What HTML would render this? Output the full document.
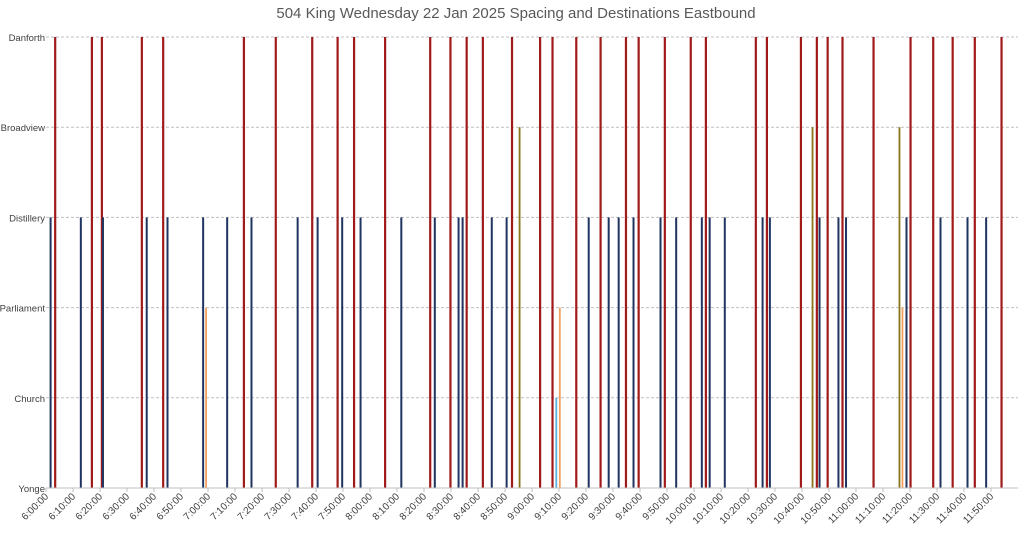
<!DOCTYPE html>
<html><head><meta charset="utf-8"><style>
body{margin:0;background:#fff;}
svg{display:block;font-family:"Liberation Sans",sans-serif;}
</style></head><body>
<svg id="chart" width="1024" height="542">
<text x="516" y="18" text-anchor="middle" font-size="15" fill="#595959">504 King Wednesday 22 Jan 2025 Spacing and Destinations Eastbound</text>
<g id="grid"></g><g id="bars"></g><g id="axes"></g>
</svg>
<script>
const stops = ["Yonge","Church","Parliament","Distillery","Broadview","Danforth"];
const tickLabels = ["6:00:00","6:10:00","6:20:00","6:30:00","6:40:00","6:50:00","7:00:00","7:10:00","7:20:00","7:30:00","7:40:00","7:50:00","8:00:00","8:10:00","8:20:00","8:30:00","8:40:00","8:50:00","9:00:00","9:10:00","9:20:00","9:30:00","9:40:00","9:50:00","10:00:00","10:10:00","10:20:00","10:30:00","10:40:00","10:50:00","11:00:00","11:10:00","11:20:00","11:30:00","11:40:00","11:50:00"];
// minutes after 6:00
const danforthTimes = [3.4,17,20.7,35.5,43.4,73.3,85.1,98.6,108,114.1,125.6,142.3,149.8,155.8,161.8,172.6,183,187.6,196.4,205.4,214.8,219.5,229.2,238.8,244.4,262.9,267,279.6,285.5,289.5,295,306.5,320.2,328.6,335.8,344,353.9];
const distilleryTimes = [1.7,12.9,21.1,37.3,45,58.2,67.1,76.1,93.2,100.6,109.7,116.5,131.6,144,152.8,154.3,165.1,170.6,201,208.4,212.1,217.6,227.6,233.4,242.9,245.8,251.4,265.4,268.1,286.5,293.5,296.3,318.7,331.3,341.3,348.2];
const broadviewTimes = [175.4,283.9,316.1];
const churchTimes = [189];
const parliamentTimes = [59.3,190.3,317.2];

const NS="http://www.w3.org/2000/svg";
const X0=46, PXMIN=2.7, YB=488, YT=37;
function x(m){return X0+m*PXMIN;}
function y(lv){return YB-lv*(YB-YT)/5;}
function mk(tag,attrs,parent){const e=document.createElementNS(NS,tag);for(const k in attrs)e.setAttribute(k,attrs[k]);parent.appendChild(e);return e;}
const grid=document.getElementById('grid'),bars=document.getElementById('bars'),axes=document.getElementById('axes');
stops.forEach((s,i)=>{
  if(i>0){const l=mk('line',{x1:X0,x2:1018,y1:y(i),y2:y(i),stroke:'#bfbfbf','stroke-dasharray':'3,2','stroke-width':1},grid);
  
  }
  const t=mk('text',{x:X0-1,y:y(i)+4,'text-anchor':'end','font-size':9.5,fill:'#404040'},axes);
  t.textContent=s;
  
  
});
const base=mk('line',{x1:X0,x2:1018,y1:YB,y2:YB,stroke:'#bfbfbf','stroke-width':1},axes);


tickLabels.forEach((lab,i)=>{
  const tx=x(i*10);
  const tk=mk('line',{x1:tx,x2:tx,y1:YB,y2:YB+4,stroke:'#bfbfbf'},axes);
  
  
  const t=mk('text',{x:tx+3,y:YB+9,'text-anchor':'end','font-size':10,fill:'#404040',transform:`rotate(-45 ${tx+3} ${YB+9})`},axes);
  t.textContent=lab;
  
  
});
function series(times,level,color,name,w){
  times.forEach(m=>{
    const r=mk('rect',{x:x(m)-w/2,y:y(level),width:w,height:YB-y(level),fill:color},bars);
    
    
  });
}
series(danforthTimes,5,'#a11a1a','bar-danforth',2.2);
series(distilleryTimes,3,'#1f3461','bar-distillery',2);
series(broadviewTimes,4,'#8a7417','bar-broadview',1.8);
series(parliamentTimes,2,'#f0a060','bar-parliament',1.8);
series(churchTimes,1,'#5aaee0','bar-church',1.8);
</script>
</body></html>
